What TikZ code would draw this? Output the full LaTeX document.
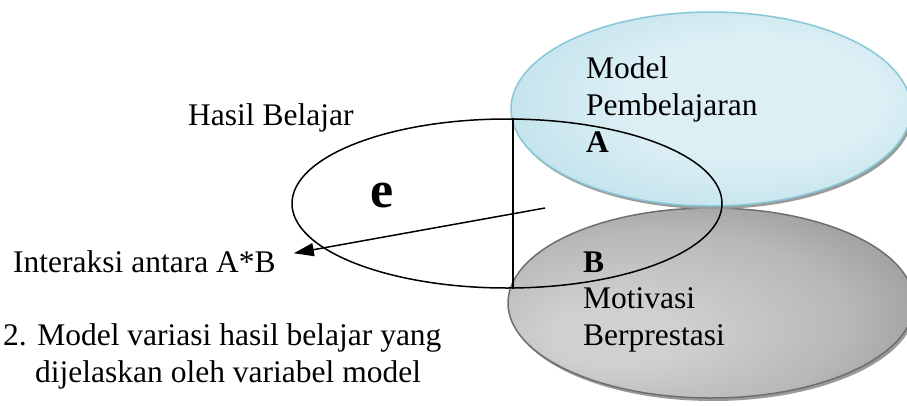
\documentclass[tikz,border=0pt]{standalone}
\usepackage{fontspec}
\setmainfont{Liberation Serif}
\usetikzlibrary{shapes.geometric,arrows.meta,shadows}
\definecolor{blueedge}{HTML}{86C8D6}
\definecolor{bluein}{HTML}{DCEFF5}
\definecolor{blueout}{HTML}{A0D1DE}
\definecolor{grayedge}{HTML}{6E6E6E}
\definecolor{grayin}{HTML}{D0D0D0}
\definecolor{graymid}{HTML}{B8B8B8}
\definecolor{grayout}{HTML}{848484}
\definecolor{shadowc}{HTML}{9A9A9A}
\pgfdeclareradialshading{blueshade}{\pgfpoint{8bp}{4bp}}{color(0bp)=(bluein); color(16bp)=(bluein); color(50bp)=(blueout)}
\pgfdeclareradialshading{grayshade}{\pgfpoint{-14bp}{-10bp}}{color(0bp)=(grayin); color(8bp)=(grayin); color(24bp)=(graymid); color(42bp)=(grayout); color(50bp)=(grayout)}
\tikzset{
  lbl/.style={inner sep=0pt, anchor=base west, font=\fontsize{31.5}{37}\selectfont},
  blbl/.style={lbl, font=\fontsize{31.5}{37}\selectfont\bfseries},
  bigbox/.style={ellipse, inner sep=0pt, line width=1.5pt,
     drop shadow={shadow xshift=2pt, shadow yshift=-3pt, fill=shadowc, opacity=1}},
  outline/.style={ellipse, inner sep=0pt, draw=black, line width=1.5pt},
  conn/.style={line width=1.5pt},
}
\begin{document}
\begin{tikzpicture}[x=1pt,y=-1pt]
\useasboundingbox[fill=white] (0,0) rectangle (907,405);
% gray ellipse (B)
\node[bigbox, draw=grayedge, shading=grayshade,
      minimum width=406pt, minimum height=190pt] (GB) at (711,303) {};
% blue ellipse (A)
\node[bigbox, draw=blueedge, shading=blueshade,
      minimum width=400pt, minimum height=194pt] (BA) at (711,109) {};
% Hasil belajar ellipse
\node[outline, minimum width=430pt, minimum height=169pt] (H) at (507,203.5) {};
\draw[conn] (H.86.6) -- (H.-86.6);
% texts
\node[lbl] (hb) at (188,125) {Hasil Belajar};
\node[lbl] (m1) at (586,78) {Model};
\node[lbl] (m2) at (586,115) {Pembelajaran};
\node[blbl] (ma) at (586,152) {A};
\node[blbl] (mb) at (583,272) {B};
\node[lbl] (g1) at (583,308) {Motivasi};
\node[lbl] (g2) at (583,345) {Berprestasi};
\node[inner sep=0pt, anchor=base west, font=\fontsize{52}{60}\selectfont\bfseries] (e) at (370,207) {e};
\node[lbl] (I) at (13,272) {Interaksi antara A*B};
\node[lbl] (t1) at (3,345) {2. Model variasi hasil belajar yang};
\node[lbl] (t2) at (35,382) {dijelaskan oleh variabel model};
% arrow
\coordinate (as) at (545,208);
\draw[conn, -{Triangle[length=20pt,width=13pt]}] (as) -- ([xshift=18pt,yshift=8pt]I.east);
\end{tikzpicture}
\end{document}
